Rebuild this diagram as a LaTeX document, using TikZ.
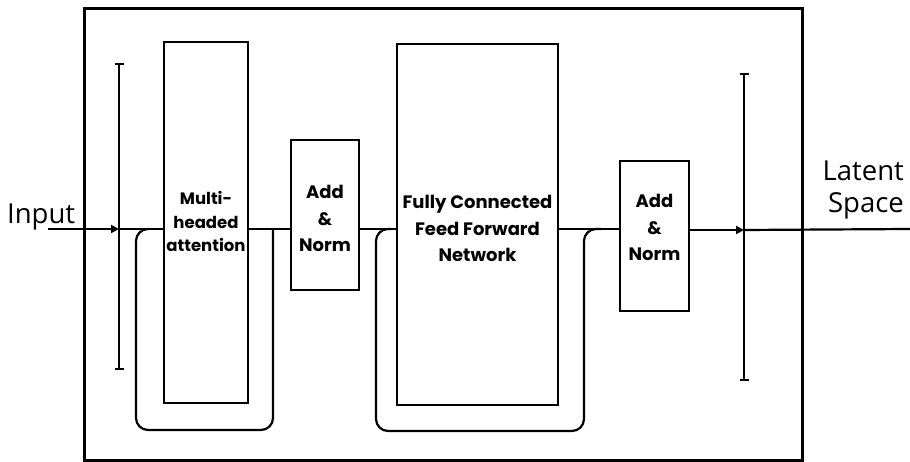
\documentclass[tikz,border=0pt]{standalone}
\usepackage{fontspec}
\setmainfont{Open Sans}
\newfontfamily\boxfont{Poppins}
\usetikzlibrary{arrows.meta}
\begin{document}
\begin{tikzpicture}[x=1pt,y=-1pt,
  line width=2.2pt, line join=miter,
  blk/.style={draw=black, line width=2.2pt, fill=white, inner sep=0pt},
  lbl/.style={font=\boxfont\bfseries\fontsize{18}{26.5}\selectfont, align=center, inner sep=0pt},
  outer/.style={font=\fontsize{27.5}{32}\selectfont, inner sep=0pt},
  wire/.style={draw=black, line width=2.2pt},
  arr/.style={-{Triangle[length=8pt,width=8pt]}},
  bar/.style={{Bar[width=9pt,line width=2pt]}-{Bar[width=9pt,line width=2pt]}, line width=2.2pt},
  loop/.style={draw=black, line width=2.2pt, rounded corners=12pt}
]
\useasboundingbox (0,0) rectangle (910,462);
% outer frame
\draw[line width=3pt] (84,9) rectangle (802,460.5);

% boxes
\node[blk, minimum width=84pt, minimum height=361pt] (mha) at (206,222.5) {};
\node[blk, minimum width=68pt, minimum height=150pt] (an1) at (325,215) {};
\node[blk, minimum width=161pt, minimum height=361pt] (ffn) at (477.5,224.5) {};
\node[blk, minimum width=69pt, minimum height=150pt] (an2) at (654.5,236) {};

% labels
\node[lbl, font=\boxfont\bfseries\fontsize{16.5}{23.5}\selectfont, anchor=base] (mhat) at (206,252) {Multi-\\headed\\attention};
\node[lbl, anchor=base] (an1t) at (325,252) {Add\\\&\\Norm};
\node[lbl, anchor=base] (ffnt) at (477.5,262) {Fully Connected\\Feed Forward\\Network};
\node[lbl, anchor=base] (an2t) at (654.5,261) {Add\\\&\\Norm};

\node[outer, anchor=base west] (inp) at (6,224) {Input};
\node[outer, anchor=base east, align=right] (lat) at (905,213) {Latent\\Space};

% bars
\coordinate (b1t) at (119,63);
\coordinate (b1b) at (119,370);
\coordinate (b2t) at (744,73);
\coordinate (b2b) at (744,381);
\draw[bar] (b1t) -- (b1b);
\draw[bar] (b2t) -- (b2b);

% main flow
\coordinate (in) at (48,229);
\coordinate (j1) at (119,229);
\coordinate (j2) at (744,230);
\coordinate (out) at (910,229);
\draw[wire, arr] (in) -- (j1);
\draw[wire] (j1) -- (mha.west |- j1);
\draw[wire] (mha.east |- j1) -- (an1.west |- j1);
\draw[wire] (an1.east |- j1) -- (ffn.west |- j1);
\draw[wire] (ffn.east |- j1) -- (an2.west |- j1);
\draw[wire, arr] (an2.east |- j2) -- (j2);
\draw[wire] (j2) -- (out);

% residual loops
\coordinate (r1s) at (149,229);
\coordinate (r1e) at (273,229);
\draw[loop] (r1s) -- (136,229) -- (136,430) -- (273,430) -- (r1e);
\coordinate (r2s) at (391,229);
\coordinate (r2e) at (601,229);
\draw[loop] (r2s) -- (376,229) -- (376,431) -- (584,431) -- (584,229) -- (r2e);
\end{tikzpicture}
\end{document}
